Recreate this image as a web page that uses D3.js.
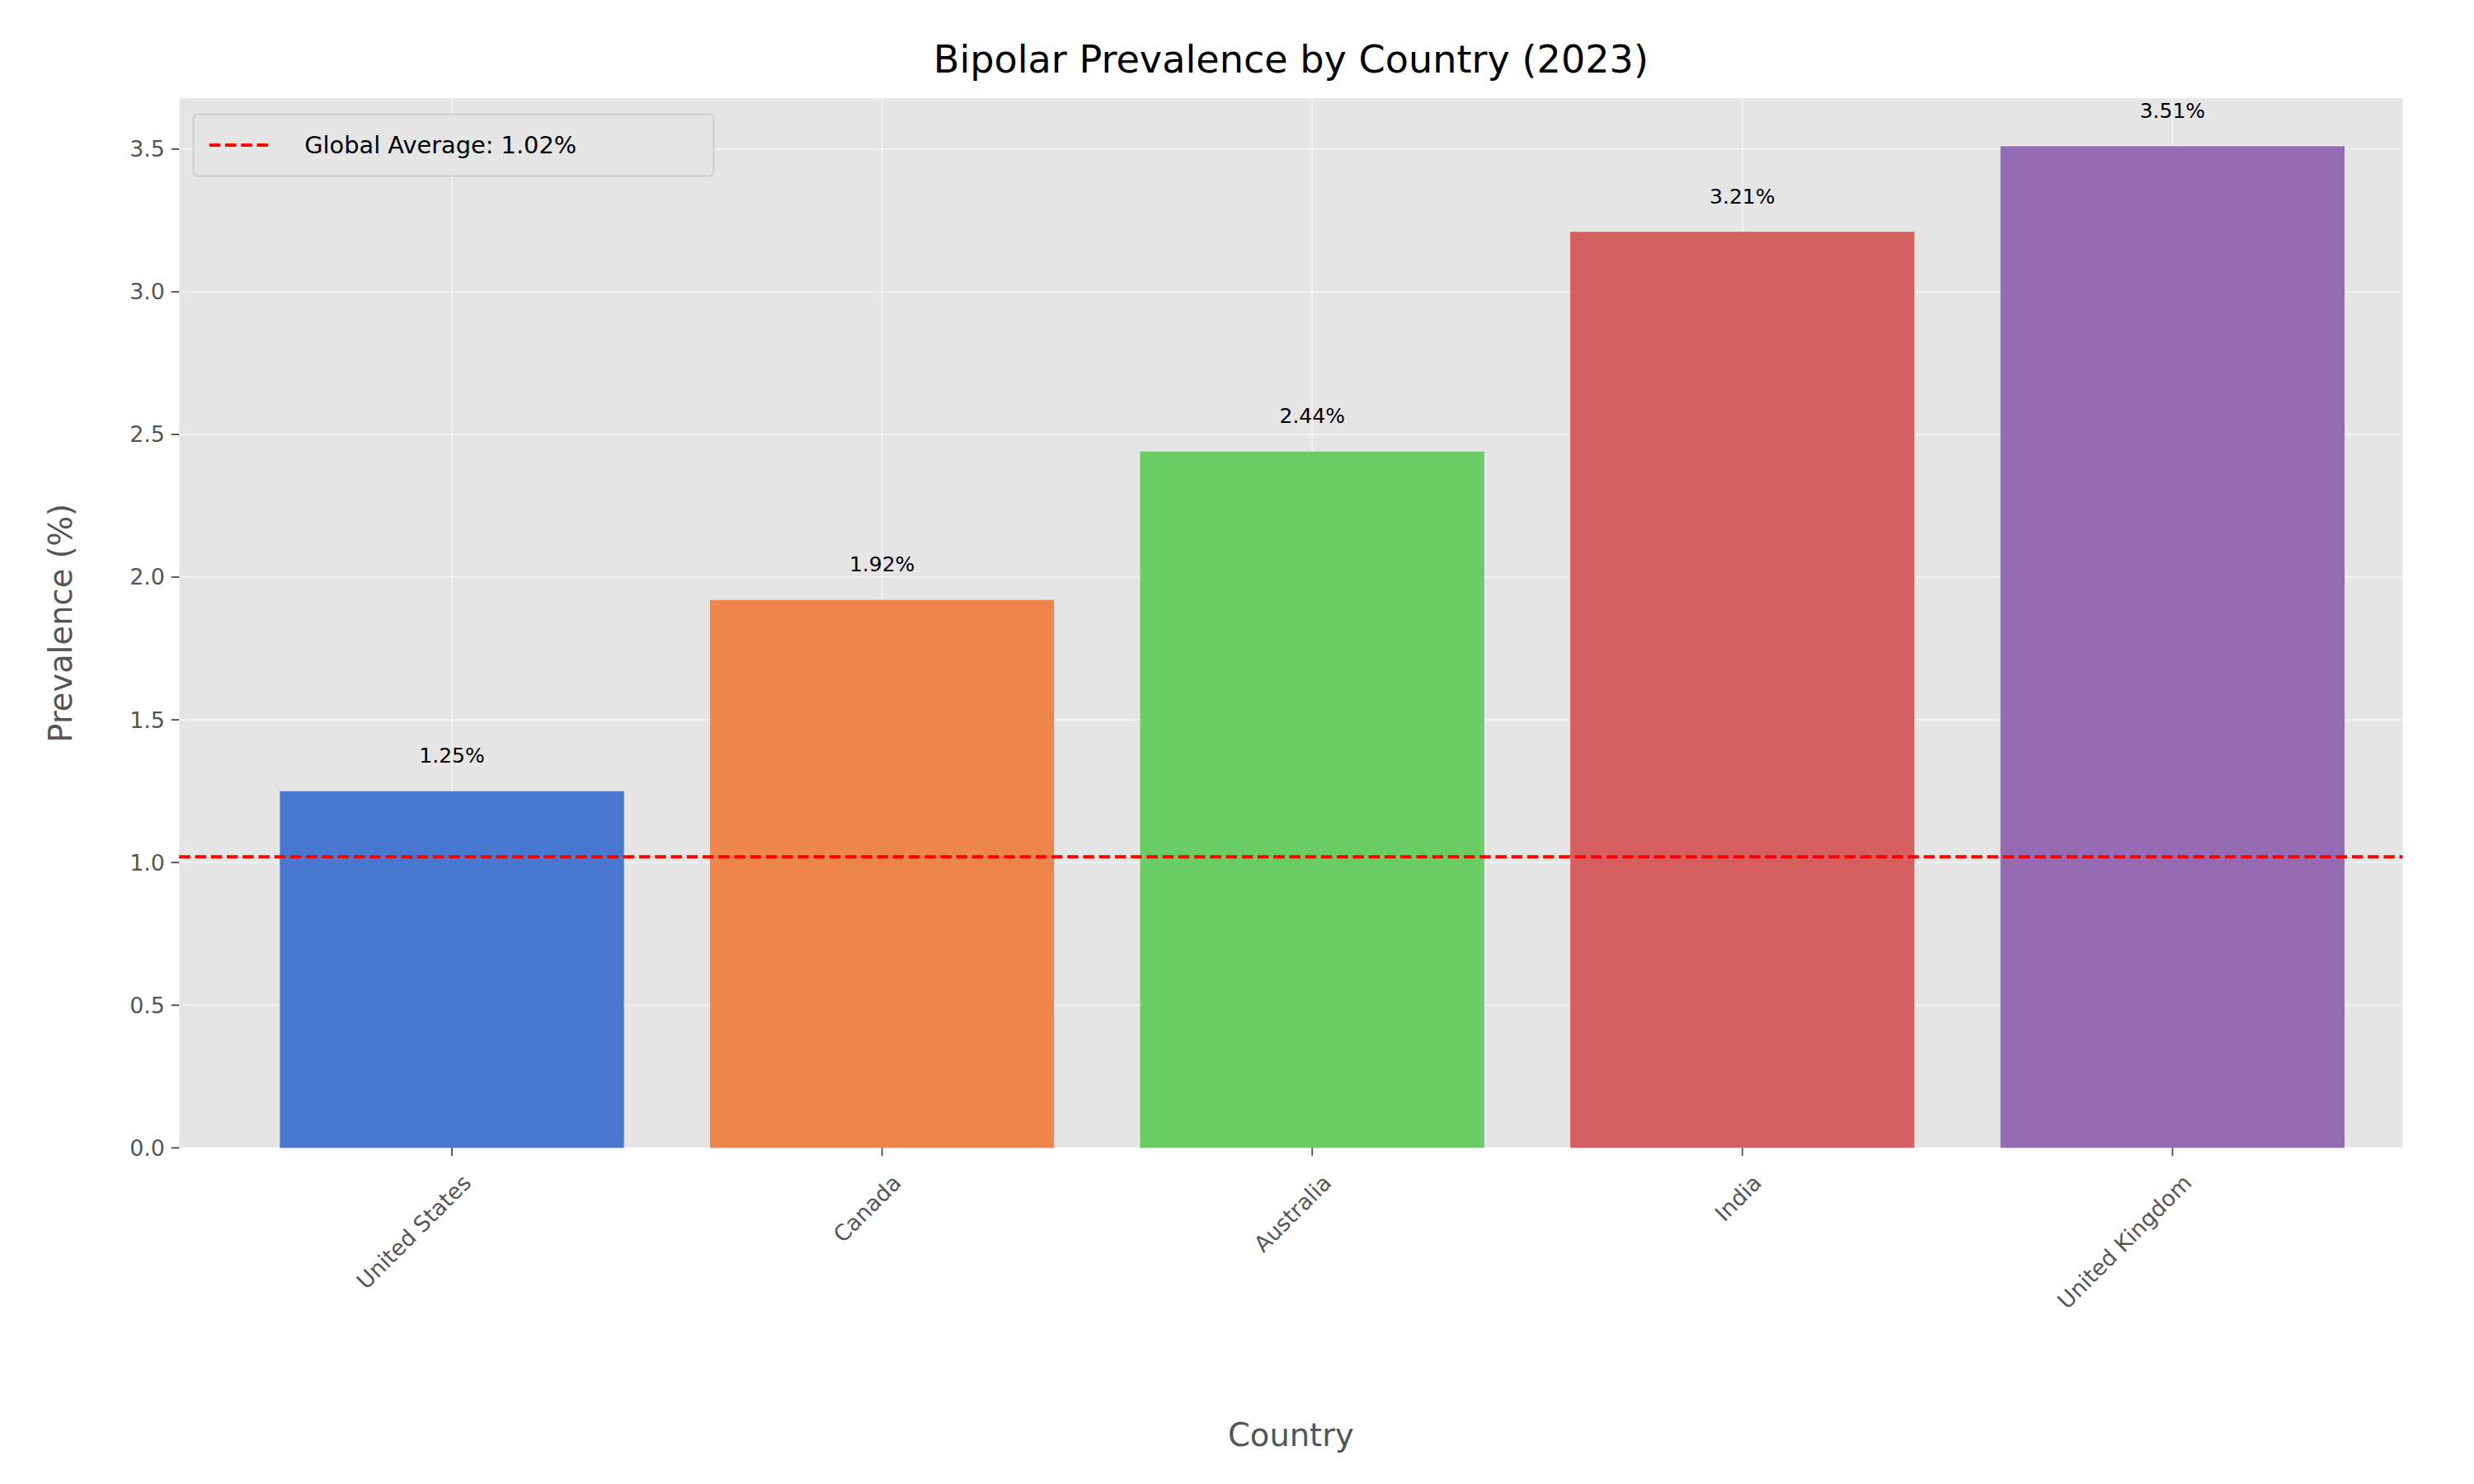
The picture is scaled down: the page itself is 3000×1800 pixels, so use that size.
<!DOCTYPE html>
<html><head><meta charset="utf-8">
<script src="https://cdn.jsdelivr.net/npm/d3@7"></script>
<style>body{margin:0;background:#fff}svg{display:block}</style>
</head><body><div id="chart"></div>
<script>
var countries = ["United States", "Canada", "Australia", "India", "United Kingdom"];
var prevalence = [1.25, 1.92, 2.44, 3.21, 3.51];
var barColors = ["#4878d0", "#ee854a", "#6acc64", "#d65f5f", "#956cb4"];
var globalAverage = 1.02;
var yTicks = [0, 0.5, 1, 1.5, 2, 2.5, 3, 3.5];

var W = 1560, H = 936;
var padLeft = 113, padRight = 1515, padTop = 62, padBottom = 724;

var svg = d3.select("#chart").append("svg")
    .attr("width", 3000).attr("height", 1800)
    .attr("viewBox", "0 0 " + W + " " + H)
    .style("font-family", "DejaVu Sans, sans-serif");

var x = d3.scaleLinear().domain([-0.634, 4.535]).range([padLeft, padRight]);
var y = d3.scaleLinear().domain([0, 3.678]).range([padBottom, padTop]);
var barW = 0.8 * (x(1) - x(0));

svg.append("rect").attr("x", padLeft).attr("y", padTop)
    .attr("width", padRight - padLeft).attr("height", padBottom - padTop).attr("fill", "#e5e5e5");

// grid
yTicks.forEach(function (t) {
    svg.append("line").attr("x1", padLeft).attr("x2", padRight)
        .attr("y1", y(t)).attr("y2", y(t)).attr("stroke", "#fff").attr("stroke-width", 0.8).attr("opacity", 0.6);
});
countries.forEach(function (c, i) {
    svg.append("line").attr("x1", x(i)).attr("x2", x(i))
        .attr("y1", padTop).attr("y2", padBottom).attr("stroke", "#fff").attr("stroke-width", 0.8).attr("opacity", 0.6);
});

// bars
countries.forEach(function (c, i) {
    svg.append("rect").attr("x", x(i) - barW / 2).attr("y", y(prevalence[i]))
        .attr("width", barW).attr("height", y(0) - y(prevalence[i]))
        .attr("fill", barColors[i]);
    svg.append("text").attr("x", x(i)).attr("y", y(prevalence[i] + 0.1))
        .attr("text-anchor", "middle").attr("font-size", 13).attr("fill", "#000")
        .text(prevalence[i].toFixed(2) + "%");
});

// average line
svg.append("line").attr("x1", padLeft).attr("x2", padRight)
    .attr("y1", y(globalAverage)).attr("y2", y(globalAverage))
    .attr("stroke", "#ff0000").attr("stroke-width", 2).attr("stroke-dasharray", "7,3");

// y axis
yTicks.forEach(function (t) {
    svg.append("line").attr("x1", padLeft - 5).attr("x2", padLeft).attr("y1", y(t)).attr("y2", y(t)).attr("stroke", "#555");
    svg.append("text").attr("x", padLeft - 9).attr("y", y(t)).attr("dy", "0.35em")
        .attr("text-anchor", "end").attr("font-size", 14).attr("fill", "#555").text(t.toFixed(1));
});
// x axis
countries.forEach(function (c, i) {
    svg.append("line").attr("x1", x(i)).attr("x2", x(i)).attr("y1", padBottom).attr("y2", padBottom + 5).attr("stroke", "#555");
    svg.append("text").attr("transform", "translate(" + (x(i) + 6) + "," + (padBottom + 16) + ") rotate(-45)")
        .attr("text-anchor", "end").attr("dy", "0.7em").attr("font-size", 14).attr("fill", "#555").text(c);
});

svg.append("text").attr("x", (padLeft + padRight) / 2).attr("y", 46).attr("text-anchor", "middle")
    .attr("font-size", 24).attr("fill", "#000").text("Bipolar Prevalence by Country (2023)");
svg.append("text").attr("x", (padLeft + padRight) / 2).attr("y", 912).attr("text-anchor", "middle")
    .attr("font-size", 20).attr("fill", "#555").text("Country");
svg.append("text").attr("transform", "translate(45," + ((padTop + padBottom) / 2) + ") rotate(-90)")
    .attr("text-anchor", "middle").attr("font-size", 20).attr("fill", "#555").text("Prevalence (%)");

// legend
var lg = svg.append("g").attr("transform", "translate(122,72)");
lg.append("rect").attr("width", 328).attr("height", 39).attr("rx", 3)
    .attr("fill", "#e5e5e5").attr("stroke", "#ccc").attr("opacity", 0.9);
lg.append("line").attr("x1", 10).attr("x2", 50).attr("y1", 19.5).attr("y2", 19.5)
    .attr("stroke", "#ff0000").attr("stroke-width", 2).attr("stroke-dasharray", "7,3");
lg.append("text").attr("x", 70).attr("y", 19.5).attr("dy", "0.35em").attr("font-size", 15)
    .attr("fill", "#000").text("Global Average: " + globalAverage.toFixed(2) + "%");
</script></body></html>
